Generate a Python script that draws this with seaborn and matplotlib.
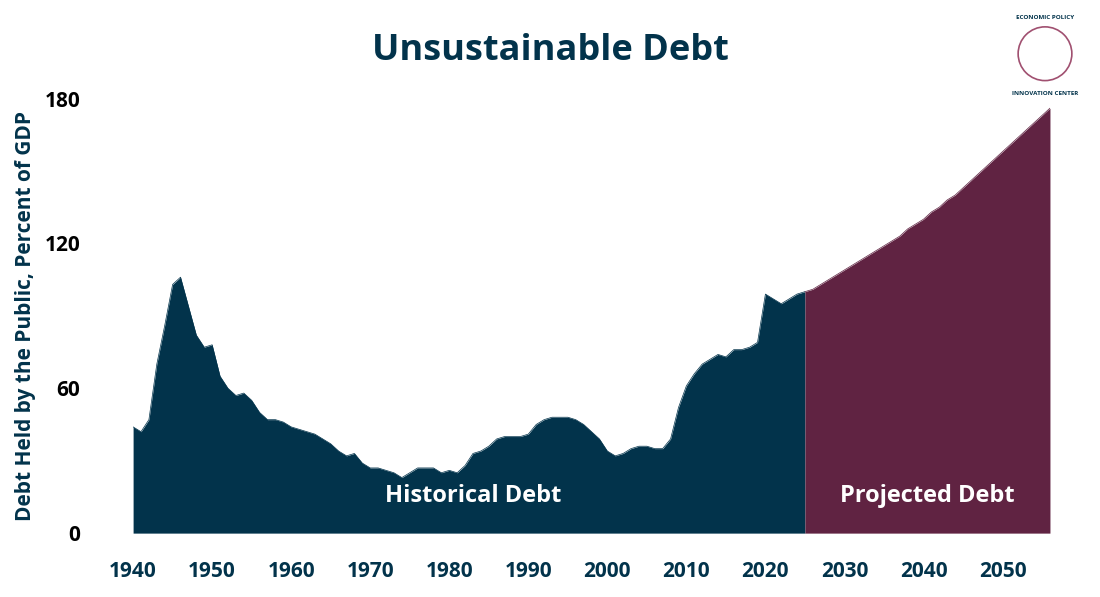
import numpy as np
import pandas as pd
import matplotlib
matplotlib.use("Agg")
import matplotlib.pyplot as plt
import seaborn as sns

# debt held by the public, % of GDP
hist_years = list(range(1940, 2026))
hist_debt = [44, 42, 47, 70, 86, 103, 106, 94, 82, 77, 78, 65, 60, 57, 58, 55, 50, 47, 47, 46,
             44, 43, 42, 41, 39, 37, 34, 32, 33, 29, 27, 27, 26, 25, 23, 25, 27, 27, 27, 25,
             26, 25, 28, 33, 34, 36, 39, 40, 40, 40, 41, 45, 47, 48, 48, 48, 47, 45, 42, 39,
             34, 32, 33, 35, 36, 36, 35, 35, 39, 52, 61, 66, 70, 72, 74, 73, 76, 76, 77, 79,
             99, 97, 95, 97, 99, 100]
proj_years = list(range(2025, 2057))
proj_debt = [100, 101, 103, 105, 107, 109, 111, 113, 115, 117, 119, 121, 123, 126, 128, 130, 133,
             135, 138, 140, 143, 146, 149, 152, 155, 158, 161, 164, 167, 170, 173, 176]

navy = "#02334b"
wine = "#602342"

sns.set_theme(style="white")
plt.rcParams["font.family"] = ["Open Sans", "DejaVu Sans"]

hist = pd.DataFrame({"year": hist_years, "debt": hist_debt})
proj = pd.DataFrame({"year": proj_years, "debt": proj_debt})

fig, ax = plt.subplots(figsize=(11, 5.97), dpi=100)
fig.subplots_adjust(left=0.121, right=0.9545, top=0.835, bottom=0.107)

sns.lineplot(data=hist, x="year", y="debt", ax=ax, color=navy, linewidth=0.5)
sns.lineplot(data=proj, x="year", y="debt", ax=ax, color=wine, linewidth=0.5)
ax.fill_between(hist["year"], hist["debt"], color=navy, linewidth=0)
ax.fill_between(proj["year"], proj["debt"], color=wine, linewidth=0)

ax.set_xlim(1940, 2056)
ax.set_ylim(0, 180)
ax.set_xticks(range(1940, 2051, 10))
ax.set_yticks([0, 60, 120, 180])
ax.tick_params(axis="x", labelsize=15, labelcolor=navy, pad=14)
ax.tick_params(axis="y", labelsize=15, labelcolor="black", pad=32)
for lab in ax.get_xticklabels() + ax.get_yticklabels():
    lab.set_fontweight("bold")
for s in ax.spines.values():
    s.set_visible(False)
ax.set_xlabel("")
ax.set_ylabel("Debt Held by the Public, Percent of GDP", fontsize=15, fontweight="bold",
              color=navy, labelpad=6)

ax.text(1983, 13, "Historical Debt", color="white", fontsize=17, fontweight="bold", ha="center")
ax.text(2040.5, 13, "Projected Debt", color="white", fontsize=17, fontweight="bold", ha="center")

fig.text(0.5, 0.9, "Unsustainable Debt", fontsize=26, fontweight="bold", color=navy, ha="center")

# logo placeholder
lax = fig.add_axes([0.9, 0.82, 0.1, 0.18])
lax.set_aspect("equal")
lax.axis("off")
lax.set_xlim(-1.1, 1.1)
lax.set_ylim(-1.1, 1.1)
lax.add_patch(plt.Circle((0, 0), 0.55, fill=False, edgecolor="#a05070", linewidth=1.2))
lax.text(0, 0.72, "ECONOMIC POLICY", fontsize=4.5, color=navy, ha="center", fontweight="bold")
lax.text(0, -0.85, "INNOVATION CENTER", fontsize=4.5, color=navy, ha="center", fontweight="bold")

fig.savefig("out.png")
